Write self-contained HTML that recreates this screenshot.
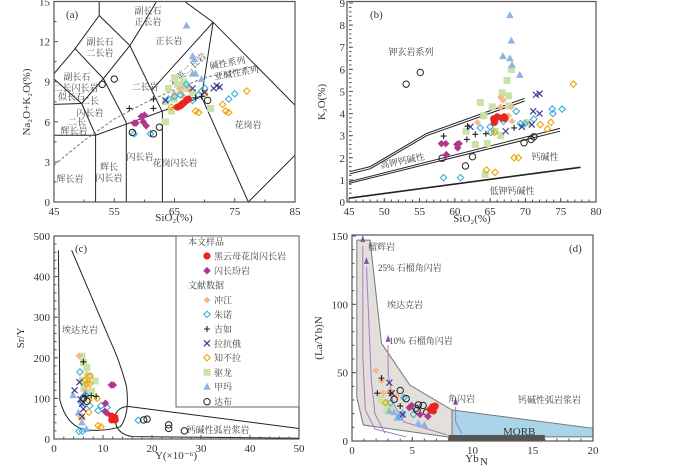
<!DOCTYPE html>
<html><head><meta charset="utf-8">
<style>
html,body{margin:0;padding:0;background:#fff;}
svg{display:block;}
text{font-family:"Liberation Serif","Noto Serif CJK SC",serif;fill:#333;}
.cj{font-family:"Liberation Serif","Noto Serif CJK SC",serif;font-size:9px;fill:#444;}
.tk{font-size:11px;fill:#333;}
.ln{fill:none;stroke:#222;stroke-width:1;}
</style></head>
<body>
<svg id="fig" width="700" height="467" viewBox="0 0 700 467" xmlns="http://www.w3.org/2000/svg">
<g id="pa"></g>
<g id="pb"></g>
<g id="pc"></g>
<g id="pd"></g>
</svg>
<script>
// ---------- DATA ----------
// Panel a: TAS  [SiO2, Na2O+K2O]
const aRed=[[65.5,7.1],[66,7.2],[66.5,7.4],[67,7.6],[67.3,7.7],[66.2,7.3]];
const aMag=[[58.3,5.9],[58.6,5.9],[59.5,6.4],[60,6.5],[59.8,6.0],[60.3,5.7]];
const aCirc=[[53,8.8],[55,9.2],[58,5.2],[61.5,5.1],[62.5,5.6],[70.5,7.6]];
const aPlus=[[57.5,7.0],[61.5,7.7],[61.5,7.0],[68.5,7.8],[69.5,7.9]];
const aGreen=[[65,9.3],[64,8.5],[65.5,8.8],[66,8.3],[67,8.5],[66.5,9.0],[63.5,7.5],[64.5,6.8],[63.5,6.0],[71,7.0],[68,8.2],[65,7.7]];
const aTri=[[67,13.2],[68,10.9],[68.3,10.7],[68,9.6],[68.5,9.6],[69.5,9.2]];
const aOrange=[[66,8.5],[65,8.1],[67.5,8.4],[66.5,7.9]];
const aCyan=[[58.3,5.1],[61,5.1],[64,7.7],[65,7.9],[66,8.0],[67,8.8],[69,8.0],[69.5,8.3],[70,8.5],[74,7.7],[75,8.1],[68,7.6]];
const aNavy=[[68,8.5],[71.5,8.5],[72,8.7],[72.5,8.6],[70,8.2],[63.5,7.6]];
const aYellow=[[64.5,7.1],[68.5,6.8],[69,6.7],[73,7.3],[73.5,6.8],[74,6.7],[77,8.3],[70,8.1]];
// Panel b: [SiO2, K2O]
const bRed=[[65.5,3.76],[66,3.85],[66.7,3.8],[67,3.85],[67.1,3.78],[65.6,3.6]];
const bMag=[[58.1,2.64],[58.7,2.64],[58.8,2.14],[60.3,2.6],[60.4,2.45],[60.6,2.64]];
const bCirc=[[53.1,5.33],[55.1,5.86],[58.2,1.98],[61.5,1.63],[62.5,2.05],[69.8,2.68],[70.8,2.83],[71.2,2.95]];
const bPlus=[[58.4,2.98],[61.8,3.43],[61.7,2.83],[62.9,3.06],[64.4,3.09],[68.4,3.35]];
const bGreen=[[68,6.0],[67.4,5.5],[66.7,4.94],[67.6,4.8],[63.6,4.5],[64.1,3.9],[65.3,4.3],[67.6,4.35],[70.3,3.6],[62.9,2.6],[64.6,2.65],[64.3,1.25],[66.5,3.0],[65.7,3.2],[61.6,3.2]];
const bOrange=[[66.5,4.74],[66.8,4.6],[68,4.3],[63.2,3.6],[67.6,3.9],[68.1,3.65],[66.5,4.3]];
const bCyan=[[58.4,1.1],[60.8,1.1],[63.6,3.35],[65,3.4],[65.7,3.65],[66.9,3.65],[68.7,4.1],[69.3,3.54],[69.9,3.54],[71.2,3.75],[73.8,4.2],[73.9,4.0],[75.2,4.2],[65.1,3.15]];
const bNavy=[[62.2,3.4],[67.2,3.2],[69.5,3.4],[70.9,3.5],[71.1,4.1],[72,4.0],[71.5,4.85],[72,4.9]];
const bYellow=[[64.5,1.45],[65.7,1.34],[68.4,2.0],[69,2.0],[72.1,3.5],[73.1,3.3],[73.6,3.6],[76.8,5.33],[65.6,3.15]];
const bTri=[[67.8,8.45],[68.0,7.3],[66.8,6.6],[67.8,6.5],[68.1,6.2],[69.2,5.75]];
// Panel c: [Y, Sr/Y]
const cRed=[[12.1,51],[11.8,56],[12.5,47],[11.8,47],[12.4,53]];
const cMag=[[12.1,133],[11.7,133],[10.5,88],[10.4,68],[10.8,64]];
const cGreen=[[5.7,204],[6.0,188],[6.7,176],[7.3,155],[8.4,143],[6.8,143],[5.8,145],[6.1,125],[7.7,118]];
const cOrange=[[5.1,205],[6.7,159],[6.4,120]];
const cCyan=[[5.3,165],[5.1,19],[5.8,19],[5.6,90],[6.4,106],[7.3,82],[9.0,70],[9.6,82],[10.8,78],[17.2,46],[6.4,110]];
const cPlus=[[6.0,190],[6.4,105],[7.6,107],[8.6,105]];
const cNavy=[[5.2,140],[4.2,120],[5.4,98],[5.7,87],[6.0,74],[5.7,55]];
const cYellow=[[6.3,145],[6.7,136],[7.3,136],[7.3,155],[7.1,66],[5.6,54],[9.0,33],[9.6,30],[7.1,95],[8.8,100]];
const cTri=[[3.9,108],[5.0,65],[5.7,41],[6.6,25]];
const cCirc=[[6.0,100],[6.7,93],[18.3,47],[19.0,49],[23.4,35],[23.4,26],[26.6,20]];
// Panel d: [YbN, (La/Yb)N]
const dRed=[[6.7,25],[6.9,25.5],[6.5,23],[6.75,22]];
const dMag=[[4.76,24.4],[4.95,26],[5.65,19.4],[6.3,18]];
const dTri=[[3.1,22],[3.5,21],[3.9,19],[4.2,21],[5.5,13],[6.0,11.7],[3.75,17]];
const dCirc=[[4.0,37],[3.5,30.5],[4.5,31],[5.5,26.4],[5.9,26],[5.3,24],[5.4,22.5],[6.2,21]];
const dPlus=[[2.1,35],[2.45,46],[4.0,25.6],[3.2,35]];
const dOrange=[[2.0,51.5],[2.45,44],[2.6,35],[3.7,33]];
const dCyan=[[4.3,31.7],[5.1,19.4],[4.0,17.6],[3.2,28]];
const dNavy=[[3.1,42.7],[3.3,35],[4.2,19.4]];
const dGreen=[[2.4,30.5],[2.7,28],[3.2,24],[2.9,22]];
const dYellow=[[3.2,36],[2.8,28]];

// ---------- HELPERS ----------
const NS="http://www.w3.org/2000/svg";
function el(tag,attrs,parent){const e=document.createElementNS(NS,tag);for(const k in attrs)e.setAttribute(k,attrs[k]);parent.appendChild(e);return e;}
function lin(d0,d1,p0,p1){return v=>p0+(v-d0)*(p1-p0)/(d1-d0);}
function poly(pts,sx,sy,g,style,name){
  const d=pts.map((p,i)=>(i?'L':'M')+sx(p[0]).toFixed(1)+','+sy(p[1]).toFixed(1)).join('');
  const e=el('path',Object.assign({d:d},style),g);
  
  
  return e;
}
function txt(g,x,y,s,cls,name,extra){
  const t=el('text',Object.assign({x:x,y:y,class:cls},extra||{}),g);t.textContent=s;
  
  
  return t;
}
function marker(g,type,x,y){
  let e;
  if(type==='red'){e=el('circle',{cx:x,cy:y,r:3.6,fill:'#e8251f'},g);}
  else if(type==='mag'){e=el('path',{d:`M${x},${y-3.8}L${x+3.8},${y}L${x},${y+3.8}L${x-3.8},${y}Z`,fill:'#b0388c'},g);}
  else if(type==='orange'){e=el('path',{d:`M${x},${y-3.5}L${x+3.5},${y}L${x},${y+3.5}L${x-3.5},${y}Z`,fill:'#f7b98c'},g);}
  else if(type==='cyan'){e=el('path',{d:`M${x},${y-3.2}L${x+3.2},${y}L${x},${y+3.2}L${x-3.2},${y}Z`,fill:'none',stroke:'#3aaee0','stroke-width':1.1},g);}
  else if(type==='yellow'){e=el('path',{d:`M${x},${y-3.2}L${x+3.2},${y}L${x},${y+3.2}L${x-3.2},${y}Z`,fill:'none',stroke:'#f0a500','stroke-width':1.1},g);}
  else if(type==='plus'){e=el('path',{d:`M${x-3},${y}H${x+3}M${x},${y-3}V${y+3}`,stroke:'#222','stroke-width':1.1},g);}
  else if(type==='navy'){e=el('path',{d:`M${x-3},${y-3}L${x+3},${y+3}M${x+3},${y-3}L${x-3},${y+3}`,stroke:'#3b3b8f','stroke-width':1.2},g);}
  else if(type==='green'){e=el('rect',{x:x-3.5,y:y-3.5,width:7,height:7,fill:'#c8e2a8'},g);}
  else if(type==='tri'){e=el('path',{d:`M${x},${y-4}L${x+3.8},${y+3}L${x-3.8},${y+3}Z`,fill:'#8fb4e2'},g);}
  else if(type==='circ'){e=el('circle',{cx:x,cy:y,r:3.2,fill:'none',stroke:'#222','stroke-width':1},g);}
  
  
  return e;
}
function plotSeries(g,arr,type,sx,sy){arr.forEach(p=>marker(g,type,sx(p[0]),sy(p[1])));}
function frame(g,x0,y0,x1,y1,name){
  const r=el('rect',{x:x0,y:y0,width:x1-x0,height:y1-y0,fill:'none',stroke:'#555','stroke-width':1.2},g);
  
  
}
function ticks(g,axis,vals,minor,sx,sy,pos,labelOff){
  vals.forEach(v=>{
    if(axis==='x'){const x=sx(v);el('line',{x1:x,y1:pos,x2:x,y2:pos-4,stroke:'#555'},g);
      txt(g,x,pos+13,String(v),'tk','x-tick-label',{'text-anchor':'middle'});}
    else{const y=sy(v);el('line',{x1:pos,y1:y,x2:pos+4,y2:y,stroke:'#555'},g);
      txt(g,pos-4,y+4,String(v),'tk','y-tick-label',{'text-anchor':'end'});}
  });
  minor.forEach(v=>{
    if(axis==='x'){const x=sx(v);el('line',{x1:x,y1:pos,x2:x,y2:pos-2.5,stroke:'#555'},g);}
    else{const y=sy(v);el('line',{x1:pos,y1:y,x2:pos+2.5,y2:y,stroke:'#555'},g);}
  });
}
function range(a,b,s){const r=[];for(let v=a;v<=b+1e-9;v+=s)r.push(+v.toFixed(3));return r;}
const L={fill:'none',stroke:'#222','stroke-width':1};

// ---------- PANEL A ----------
(function(){
const g=document.getElementById('pa');
const sx=lin(45,85,54,295), sy=lin(0,15,202,1.5);
const lines=[
 [[52.5,15],[52.5,13.95],[57.6,11.7],[59.8,13.3],[62,15]],
 [[52.5,13.95],[48.5,11.47],[45,9.6]],
 [[48.5,11.47],[53.2,9.23],[57.6,11.7]],
 [[53.2,9.23],[57,5.95]],
 [[57.6,11.7],[61.2,8.36],[63,6.74]],
 [[45,9.2],[49.6,7.37],[53.2,9.23]],
 [[49.6,7.37],[51.9,5.0]],
 [[45,7.3],[49.6,7.37]],
 [[45,5],[51.9,5],[69.5,7.86]],
 [[51.9,5],[51.9,0]],[[57,5.95],[57,0]],[[63,6.74],[63,0]],
 [[61.2,8.36],[71.4,13.45]],
 [[66.7,15],[71.4,13.45],[85,7.24]],
 [[71.4,13.45],[69.5,7.86],[77.25,0],[85,3.5]]
];
lines.forEach(l=>poly(l,sx,sy,g,L,'field-boundary'));
poly([[45,2.76],[50,4.6],[55,6.2],[60,7.4],[65,8.4],[70,9.3],[78.6,10.2]],sx,sy,g,{fill:'none',stroke:'#777','stroke-width':1,'stroke-dasharray':'3,2'},'alkaline-subalkaline-divider');
frame(g,54,1.5,295,202,'panel-a-frame');
ticks(g,'x',[45,55,65,75,85],range(50,80,10),sx,sy,202);
ticks(g,'y',[0,3,6,9,12,15],range(1.5,13.5,3),sx,sy,54);
txt(g,174,221,'SiO₂(%)','tk','x-axis-title',{'text-anchor':'middle','font-size':'11'});
txt(g,30,102,'Na₂O+K₂O(%)','tk','y-axis-title',{'text-anchor':'middle',transform:'rotate(-90 30 102)'});
txt(g,66,18,'(a)','tk','panel-label');
const labs=[[148,14,'副长石'],[148,25,'正长岩'],[100,45,'副长石'],[100,56,'二长岩'],[77,80,'副长石'],[76,91,'二长闪长岩'],[145,90,'二长岩'],[90,104,'二长'],[90,116,'闪长岩'],[77,125,'二长'],[74,134,'辉长岩'],[169,44,'正长岩'],[248,128,'花岗岩'],[70,182,'辉长岩'],[109,170,'辉长'],[109,181,'闪长岩'],[140,160,'闪长岩'],[175,166,'花岗闪长岩']];
labs.forEach(l=>txt(g,l[0],l[1],l[2],'cj','field-label',{'text-anchor':'middle'}));
txt(g,190,72,'石英二长岩','cj','field-label',{transform:'rotate(-42 190 72)','text-anchor':'middle'});
txt(g,228,66,'碱性系列','cj','series-label',{transform:'rotate(-10 228 66)','text-anchor':'middle'});
txt(g,237,76,'亚碱性系列','cj','series-label',{transform:'rotate(-10 237 76)','text-anchor':'middle'});
txt(g,58,100,'似长石','cj','field-label',{'font-size':'7'});
plotSeries(g,aGreen,'green',sx,sy);plotSeries(g,aTri,'tri',sx,sy);plotSeries(g,aOrange,'orange',sx,sy);
plotSeries(g,aCyan,'cyan',sx,sy);plotSeries(g,aYellow,'yellow',sx,sy);plotSeries(g,aNavy,'navy',sx,sy);
plotSeries(g,aPlus,'plus',sx,sy);plotSeries(g,aCirc,'circ',sx,sy);plotSeries(g,aMag,'mag',sx,sy);plotSeries(g,aRed,'red',sx,sy);
})();

// ---------- PANEL B ----------
(function(){
const g=document.getElementById('pb');
const sx=lin(45,80,349,596), sy=lin(0,9,202,3);
poly([[45.1,1.37],[48,1.6],[56,3.1],[69.9,4.69]],sx,sy,g,L,'shoshonite-boundary');
poly([[45.1,1.27],[48,1.5],[56,3.0],[69.9,4.57]],sx,sy,g,L,'shoshonite-boundary-2');
poly([[45,0.92],[74.9,3.33]],sx,sy,g,L,'high-k-boundary');
poly([[45,0.84],[74.9,3.2]],sx,sy,g,L,'high-k-boundary-2');
poly([[45,0.17],[77.8,1.57]],sx,sy,g,{fill:'none',stroke:'#222','stroke-width':1.6},'low-k-boundary');
frame(g,347,1.5,596,202,'panel-b-frame');
ticks(g,'x',range(45,80,5),range(46,79,1),sx,sy,202);
ticks(g,'y',range(0,9,1),range(0.2,8.8,0.2),sx,sy,349);
txt(g,472,222,'SiO₂(%)','tk','x-axis-title',{'text-anchor':'middle'});
txt(g,325,102,'K₂O(%)','tk','y-axis-title',{'text-anchor':'middle',transform:'rotate(-90 325 102)'});
txt(g,370,18,'(b)','tk','panel-label');
txt(g,411,55,'钾玄岩系列','cj','field-label',{'text-anchor':'middle'});
txt(g,403,164,'高钾钙碱性','cj','field-label',{'text-anchor':'middle',transform:'rotate(-12 403 164)'});
txt(g,545,160,'钙碱性','cj','field-label',{'text-anchor':'middle'});
txt(g,512,194,'低钾钙碱性','cj','field-label',{'text-anchor':'middle'});
plotSeries(g,bGreen,'green',sx,sy);plotSeries(g,bTri,'tri',sx,sy);plotSeries(g,bOrange,'orange',sx,sy);
plotSeries(g,bCyan,'cyan',sx,sy);plotSeries(g,bYellow,'yellow',sx,sy);plotSeries(g,bNavy,'navy',sx,sy);
plotSeries(g,bPlus,'plus',sx,sy);plotSeries(g,bCirc,'circ',sx,sy);plotSeries(g,bMag,'mag',sx,sy);plotSeries(g,bRed,'red',sx,sy);
})();

// ---------- PANEL C ----------
(function(){
const g=document.getElementById('pc');
const sx=lin(0,50,54,299), sy=lin(0,500,439,236);
const curve=el('path',{d:`M${sx(0.9)},${sy(465)} L${sx(1.2)},${sy(96)} Q${sx(2.5)},${sy(35)} ${sx(6)},${sy(24)} Q${sx(9.5)},${sy(16)} ${sx(13.5)},${sy(30)} Q${sx(15.5)},${sy(60)} ${sx(14.8)},${sy(129)} Q${sx(13.5)},${sy(190)} ${sx(11.4)},${sy(244)} L${sx(3.6)},${sy(465)}`,fill:'none',stroke:'#222','stroke-width':1},g);


const arc=el('path',{d:`M${sx(12.4)},${sy(55)} Q${sx(13)},${sy(80)} ${sx(15.2)},${sy(80)} L${sx(50)},${sy(26)} M${sx(12.4)},${sy(55)} Q${sx(12.4)},${sy(12)} ${sx(16)},${sy(6)} L${sx(50)},${sy(2)}`,fill:'none',stroke:'#222','stroke-width':1},g);


frame(g,54,236,299,439,'panel-c-frame');
ticks(g,'x',range(0,50,10),range(2,48,2),sx,sy,439);
ticks(g,'y',range(0,500,100),range(20,480,20),sx,sy,54);
txt(g,176,459,'Y(×10⁻⁶)','tk','x-axis-title',{'text-anchor':'middle'});
txt(g,24,338,'Sr/Y','tk','y-axis-title',{'text-anchor':'middle',transform:'rotate(-90 24 338)'});
txt(g,75,252,'(c)','tk','panel-label');
txt(g,80,333,'埃达克岩','cj','field-label',{'text-anchor':'middle'});
txt(g,218,433,'钙碱性弧岩浆岩','cj','field-label',{'text-anchor':'middle'});
plotSeries(g,cGreen,'green',sx,sy);plotSeries(g,cTri,'tri',sx,sy);plotSeries(g,cOrange,'orange',sx,sy);
plotSeries(g,cCyan,'cyan',sx,sy);plotSeries(g,cYellow,'yellow',sx,sy);plotSeries(g,cNavy,'navy',sx,sy);
plotSeries(g,cPlus,'plus',sx,sy);plotSeries(g,cCirc,'circ',sx,sy);plotSeries(g,cMag,'mag',sx,sy);plotSeries(g,cRed,'red',sx,sy);
// legend
const lg=el('g',{},g);


const lb=el('rect',{x:176,y:236,width:123,height:171,fill:'#fff',stroke:'#666','stroke-width':1},lg);


const ent=[[null,'本文样品'],['red','黑云母花岗闪长岩'],['mag','闪长玢岩'],[null,'文献数据'],['orange','冲江'],['cyan','朱诺'],['plus','吉如'],['navy','拉抗俄'],['yellow','知不拉'],['green','驱龙'],['tri','甲玛'],['circ','达布']];
const ys=[241.7,256,270.7,285,300,314.3,329,343.3,357.7,372.3,386.7,401.7];
ent.forEach((e,i)=>{
  if(e[0]){marker(lg,e[0],207,ys[i]);txt(lg,214,ys[i]+3.5,e[1],'cj','legend-entry');}
  else txt(lg,188,ys[i]+3.5,e[1],'cj','legend-header');
});
})();

// ---------- PANEL D ----------
(function(){
const g=document.getElementById('pd');
const sx=lin(0,20,352,593), sy=lin(0,150,441,236);
poly([[0.4,147],[1.5,147],[2.45,71.5],[4.8,41],[8.3,22.7],[8.3,3],[7.9,3],[0.94,11.7],[0.4,32],[0.4,147]],sx,sy,g,{fill:'#e3e0dc',stroke:'#777','stroke-width':1},'adakite-field');
poly([[8.3,22.7],[20,9.3],[20,3],[8.3,3],[8.3,22.7]],sx,sy,g,{fill:'#a9d4ea',stroke:'#777','stroke-width':1},'arc-magma-field');
const mb=el('rect',{x:sx(8),y:sy(4.4),width:sx(16)-sx(8),height:sy(0)-sy(4.4),fill:'#555'},g);


const P={fill:'none',stroke:'#a77cc4','stroke-width':1};
poly([[0.9,143],[0.9,62],[1.1,22.7],[1.9,8.8],[4.5,3]],sx,sy,g,P,'eclogite-melting-curve');
poly([[1.2,127.5],[1.6,44.6],[1.9,20],[2.74,5.6]],sx,sy,g,P,'garnet-amphibolite-25-curve');
poly([[3.0,70],[3.0,49.5],[3.4,28],[4.3,14],[7.9,4.4]],sx,sy,g,P,'garnet-amphibolite-10-curve');
poly([[8.6,25],[8.6,14],[9.1,5.6]],sx,sy,g,P,'amphibolite-curve');
[[0.9,147],[1.2,131],[3.0,74],[8.6,28]].forEach(p=>{const a=el('path',{d:`M${sx(p[0])},${sy(p[1])-5}l2.5,7h-5z`,fill:'#8a4fb0'},g);
  
  });
frame(g,352,235,593,441,'panel-d-frame');
ticks(g,'x',range(0,20,5),range(1,19,1),sx,sy,441);
ticks(g,'y',range(0,150,50),range(10,140,10),sx,sy,352);
txt(g,472,462,'Yb','tk','x-axis-title',{'text-anchor':'middle'});
txt(g,480,465,'N','tk','x-axis-sub',{'font-size':'6'});
txt(g,322,338,'(La/Yb)N','tk','y-axis-title',{'text-anchor':'middle',transform:'rotate(-90 322 338)'});
txt(g,569,252,'(d)','tk','panel-label');
txt(g,368,250,'榴辉岩','cj','field-label');
txt(g,378,271,'25% 石榴角闪岩','cj','field-label');
txt(g,387,308,'埃达克岩','cj','field-label');
txt(g,389,344,'10% 石榴角闪岩','cj','field-label');
txt(g,448,402,'角闪岩','cj','field-label');
txt(g,518,403,'钙碱性弧岩浆岩','cj','field-label');
txt(g,503,435,'MORB','tk','morb-label',{'font-size':'9'});
plotSeries(g,dGreen,'green',sx,sy);plotSeries(g,dTri,'tri',sx,sy);plotSeries(g,dOrange,'orange',sx,sy);
plotSeries(g,dCyan,'cyan',sx,sy);plotSeries(g,dYellow,'yellow',sx,sy);plotSeries(g,dNavy,'navy',sx,sy);
plotSeries(g,dPlus,'plus',sx,sy);plotSeries(g,dCirc,'circ',sx,sy);plotSeries(g,dMag,'mag',sx,sy);plotSeries(g,dRed,'red',sx,sy);
})();
</script>
</body></html>
